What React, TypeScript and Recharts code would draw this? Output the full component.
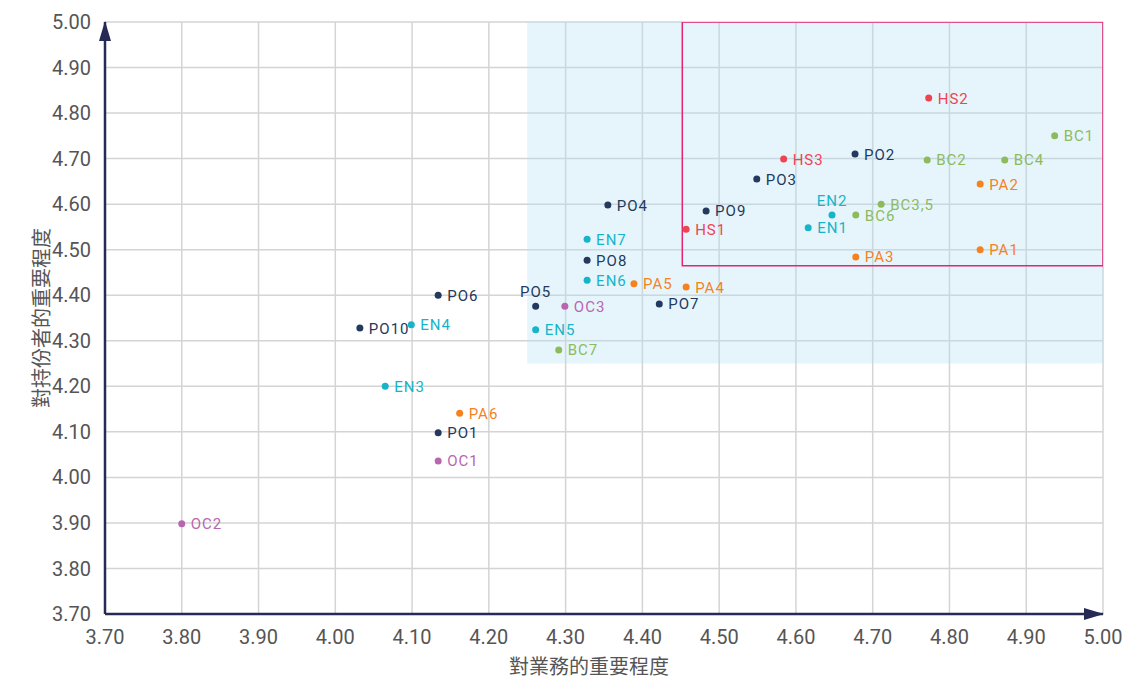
import { ScatterChart, Scatter, XAxis, YAxis, CartesianGrid, ReferenceArea } from 'recharts';

interface Pt {
  label: string;
  x: number;
  y: number;
}

const xTicks = [3.7, 3.8, 3.9, 4.0, 4.1, 4.2, 4.3, 4.4, 4.5, 4.6, 4.7, 4.8, 4.9, 5.0];
const yTicks = [3.7, 3.8, 3.9, 4.0, 4.1, 4.2, 4.3, 4.4, 4.5, 4.6, 4.7, 4.8, 4.9, 5.0];

// 營運 (navy)
const poPoints: Pt[] = [
  { label: 'PO1', x: 4.134, y: 4.098 },
  { label: 'PO2', x: 4.677, y: 4.71 },
  { label: 'PO3', x: 4.549, y: 4.655 },
  { label: 'PO4', x: 4.355, y: 4.598 },
  { label: 'PO5', x: 4.261, y: 4.376 },
  { label: 'PO6', x: 4.134, y: 4.4 },
  { label: 'PO7', x: 4.422, y: 4.381 },
  { label: 'PO8', x: 4.328, y: 4.477 },
  { label: 'PO9', x: 4.483, y: 4.585 },
  { label: 'PO10', x: 4.032, y: 4.328 },
];

const enPoints: Pt[] = [
  { label: 'EN1', x: 4.616, y: 4.548 },
  { label: 'EN2', x: 4.647, y: 4.576 },
  { label: 'EN3', x: 4.065, y: 4.2 },
  { label: 'EN4', x: 4.099, y: 4.335 },
  { label: 'EN5', x: 4.261, y: 4.324 },
  { label: 'EN6', x: 4.328, y: 4.433 },
  { label: 'EN7', x: 4.328, y: 4.523 },
];

const paPoints: Pt[] = [
  { label: 'PA1', x: 4.84, y: 4.5 },
  { label: 'PA2', x: 4.84, y: 4.644 },
  { label: 'PA3', x: 4.678, y: 4.484 },
  { label: 'PA4', x: 4.457, y: 4.418 },
  { label: 'PA5', x: 4.389, y: 4.425 },
  { label: 'PA6', x: 4.162, y: 4.141 },
];

const bcPoints: Pt[] = [
  { label: 'BC1', x: 4.937, y: 4.75 },
  { label: 'BC2', x: 4.771, y: 4.697 },
  { label: 'BC3,5', x: 4.711, y: 4.6 },
  { label: 'BC4', x: 4.872, y: 4.697 },
  { label: 'BC6', x: 4.678, y: 4.576 },
  { label: 'BC7', x: 4.291, y: 4.28 },
];

const hsPoints: Pt[] = [
  { label: 'HS1', x: 4.457, y: 4.545 },
  { label: 'HS2', x: 4.773, y: 4.833 },
  { label: 'HS3', x: 4.584, y: 4.699 },
];

const ocPoints: Pt[] = [
  { label: 'OC1', x: 4.134, y: 4.036 },
  { label: 'OC2', x: 3.8, y: 3.898 },
  { label: 'OC3', x: 4.299, y: 4.376 },
];

// labels drawn above the dot instead of to the right
const labelsAbove = ['PO5', 'EN2'];

const groups = [
  { key: 'po', data: poPoints, color: '#23395d' },
  { key: 'en', data: enPoints, color: '#15b4c9' },
  { key: 'pa', data: paPoints, color: '#f5821f' },
  { key: 'bc', data: bcPoints, color: '#8dbb5b' },
  { key: 'hs', data: hsPoints, color: '#ef4352' },
  { key: 'oc', data: ocPoints, color: '#b966ae' },
];

const AXIS_COLOR = '#262b55';
const TEXT_COLOR = '#555555';
const LABEL_FONT = 'Roboto, "DejaVu Sans", sans-serif';
const CJK_FONT = '"Noto Sans CJK TC", "Noto Sans CJK SC", sans-serif';

const makeDot = (color: string) => (props: any) => {
  const { cx, cy, payload } = props;
  const above = labelsAbove.includes(payload.label);
  return (
    <g>
      <circle cx={cx} cy={cy} r={3.5} fill={color} />
      {above ? (
        <text
          x={cx}
          y={cy - 9}
          textAnchor="middle"
          fill={color}
          fontSize={15}
          fontFamily={LABEL_FONT}
          letterSpacing={1}
        >
          {payload.label}
        </text>
      ) : (
        <text
          x={cx + 9}
          y={cy + 5.5}
          textAnchor="start"
          fill={color}
          fontSize={15}
          fontFamily={LABEL_FONT}
          letterSpacing={1}
        >
          {payload.label}
        </text>
      )}
    </g>
  );
};

const XLabel = ({ viewBox }: any) => {
  const { x, y, width } = viewBox;
  return (
    <text
      x={x + width / 2 - 15}
      y={y + 60}
      textAnchor="middle"
      fill={TEXT_COLOR}
      fontSize={20}
      fontFamily={CJK_FONT}
    >
      對業務的重要程度
    </text>
  );
};

const YLabel = ({ viewBox }: any) => {
  const { x, y, height } = viewBox;
  const cx = x + 40;
  const cy = y + height / 2;
  return (
    <text
      x={cx}
      y={cy}
      textAnchor="middle"
      dominantBaseline="central"
      transform={`rotate(-90, ${cx}, ${cy})`}
      fill={TEXT_COLOR}
      fontSize={20}
      fontFamily={CJK_FONT}
    >
      對持份者的重要程度
    </text>
  );
};

export default function App() {
  return (
    <div style={{ position: 'absolute', left: 0, top: 0, background: '#fff' }}>
      <ScatterChart
        width={1127}
        height={681}
        margin={{ top: 22, right: 24, left: 0, bottom: 0 }}
      >
        <defs>
          <marker
            id="arrowHead"
            viewBox="0 0 20 12"
            refX="19"
            refY="6"
            markerWidth="20"
            markerHeight="12"
            markerUnits="userSpaceOnUse"
            orient="auto-start-reverse"
          >
            <path d="M0,0 L20,6 L0,12 Z" fill={AXIS_COLOR} />
          </marker>
        </defs>
        <CartesianGrid stroke="#d4d4d4" strokeWidth={1.5} />
        <ReferenceArea
          x1={4.25}
          x2={5.0}
          y1={4.25}
          y2={5.0}
          fill="#b3e0f7"
          fillOpacity={0.33}
          stroke="none"
          ifOverflow="hidden"
        />
        <ReferenceArea
          x1={4.452}
          x2={5.0}
          y1={4.465}
          y2={5.0}
          fill="none"
          fillOpacity={0}
          stroke="#e6246e"
          strokeWidth={1.5}
          ifOverflow="hidden"
        />
        <XAxis
          type="number"
          dataKey="x"
          domain={[3.7, 5.0]}
          ticks={xTicks}
          interval={0}
          allowDataOverflow
          height={67}
          tickLine={false}
          tickMargin={10}
          axisLine={{ stroke: AXIS_COLOR, strokeWidth: 2.5, markerEnd: 'url(#arrowHead)' } as any}
          tickFormatter={(v: number) => v.toFixed(2)}
          tick={{ fontSize: 20, fill: TEXT_COLOR, fontFamily: LABEL_FONT }}
          label={<XLabel />}
        />
        <YAxis
          type="number"
          dataKey="y"
          domain={[3.7, 5.0]}
          ticks={yTicks}
          interval={0}
          allowDataOverflow
          width={105}
          tickLine={false}
          tickMargin={8}
          axisLine={{ stroke: AXIS_COLOR, strokeWidth: 2.5, markerStart: 'url(#arrowHead)' } as any}
          tickFormatter={(v: number) => v.toFixed(2)}
          tick={{ fontSize: 20, fill: TEXT_COLOR, fontFamily: LABEL_FONT }}
          label={<YLabel />}
        />
        {groups.map((g) => (
          <Scatter
            key={g.key}
            data={g.data}
            fill={g.color}
            shape={makeDot(g.color)}
            isAnimationActive={false}
          />
        ))}
      </ScatterChart>
    </div>
  );
}
